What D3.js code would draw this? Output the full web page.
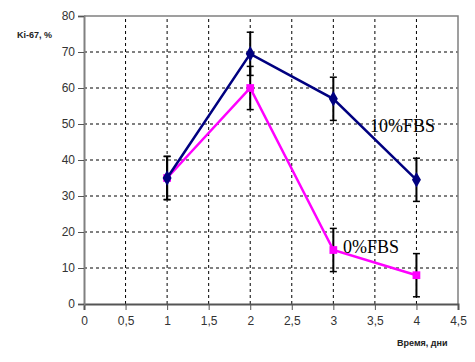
<!DOCTYPE html>
<html lang="ru">
<head>
<meta charset="UTF-8">
<title>Ki-67</title>
<script src="https://cdn.jsdelivr.net/npm/d3@7"></script>
<style>
  body { margin: 0; background: #fff; }
  .tick text { font-family: Arial, "Liberation Sans", sans-serif; font-size: 12px; fill: #333; }
</style>
</head>
<body>
<div id="fig"></div>
<script>
// data
const days = [1, 2, 3, 4]
const fbs10 = [35, 69.5, 57, 34.5]
const fbs10Err = [6, 6, 6, 6]
const fbs0 = [35, 60, 15, 8]
const fbs0Err = [6, 6, 6, 6]
const xTicks = [0, 0.5, 1, 1.5, 2, 2.5, 3, 3.5, 4, 4.5]
const yTicks = [0, 10, 20, 30, 40, 50, 60, 70, 80]

const W = 475, H = 362
const margin = {left: 84, top: 16, right: 17, bottom: 58}

let svg = d3.select("#fig").append("svg")
    .attr("width", W).attr("height", H)

const x = d3.scaleLinear().domain([0, 4.5]).range([margin.left, W - margin.right])
const y = d3.scaleLinear().domain([0, 80]).range([H - margin.bottom, margin.top])

// grid
svg.append("g").selectAll("line").data(yTicks.slice(1, -1)).enter().append("line")
    .attr("x1", x(0)).attr("x2", x(4.5))
    .attr("y1", d => y(d)).attr("y2", d => y(d))
    .attr("stroke", "#000").attr("stroke-dasharray", "3,3")
svg.append("g").selectAll("line").data(xTicks.slice(1, -1)).enter().append("line")
    .attr("y1", y(0)).attr("y2", y(80))
    .attr("x1", d => x(d)).attr("x2", d => x(d))
    .attr("stroke", "#000").attr("stroke-dasharray", "3,3")

// frame (top, right)
svg.append("path")
    .attr("d", `M${x(0)},${y(80)}H${x(4.5)}V${y(0)}`)
    .attr("fill", "none").attr("stroke", "#808080").attr("stroke-width", 1.5)

// axes
const xAxis = svg.append("g")
    .attr("transform", `translate(0,${y(0)})`)
    .call(d3.axisBottom(x).tickValues(xTicks).tickSize(6).tickPadding(6)
        .tickFormat(d => String(d).replace(".", ",")))
const yAxis = svg.append("g")
    .attr("transform", `translate(${x(0)},0)`)
    .call(d3.axisLeft(y).tickValues(yTicks).tickSize(6).tickPadding(3))
xAxis.select(".domain").attr("stroke", "#555").attr("stroke-width", 2)
yAxis.select(".domain").attr("stroke", "#808080").attr("stroke-width", 2)
svg.selectAll(".tick line").attr("stroke", "#555")

function drawSeries(vals, errs, color, marker) {
    let g = svg.append("g")
    // error bars
    days.forEach((d, i) => {
        let cx = x(d)
        let y1 = y(vals[i] - errs[i]), y2 = y(vals[i] + errs[i])
        g.append("line").attr("x1", cx).attr("x2", cx).attr("y1", y1).attr("y2", y2)
            .attr("stroke", "#000").attr("stroke-width", 2)
        ;[y1, y2].forEach(yy => g.append("line")
            .attr("x1", cx - 3.5).attr("x2", cx + 3.5).attr("y1", yy).attr("y2", yy)
            .attr("stroke", "#000").attr("stroke-width", 1.5))
    })
    g.append("path")
        .datum(days.map((d, i) => [d, vals[i]]))
        .attr("d", d3.line().x(d => x(d[0])).y(d => y(d[1])))
        .attr("fill", "none").attr("stroke", color).attr("stroke-width", 2.5)
    g.selectAll(".m").data(days).enter().append("path")
        .attr("transform", (d, i) => `translate(${x(d)},${y(vals[i])})`)
        .attr("d", d3.symbol().type(marker).size(marker === d3.symbolDiamond ? 70 : 60))
        .attr("fill", color)
}

drawSeries(fbs0, fbs0Err, "#ff00ff", d3.symbolSquare)
drawSeries(fbs10, fbs10Err, "#000080", d3.symbolDiamond)

// series labels
svg.append("text").attr("x", 370).attr("y", 132)
    .attr("font-family", "'Liberation Serif', 'Times New Roman', serif").attr("font-size", 18)
    .text("10%FBS")
svg.append("text").attr("x", 343).attr("y", 253)
    .attr("font-family", "'Liberation Serif', 'Times New Roman', serif").attr("font-size", 18)
    .text("0%FBS")

// axis titles
svg.append("text").attr("x", 17).attr("y", 38)
    .attr("font-family", "Arial, 'Liberation Sans', sans-serif").attr("font-size", 9)
    .attr("font-weight", "bold").attr("fill", "#222")
    .text("Ki-67, %")
svg.append("text").attr("x", 397).attr("y", 346)
    .attr("font-family", "Arial, 'Liberation Sans', sans-serif").attr("font-size", 9)
    .attr("font-weight", "bold").attr("fill", "#222")
    .text("Время, дни")
</script>
</body>
</html>
